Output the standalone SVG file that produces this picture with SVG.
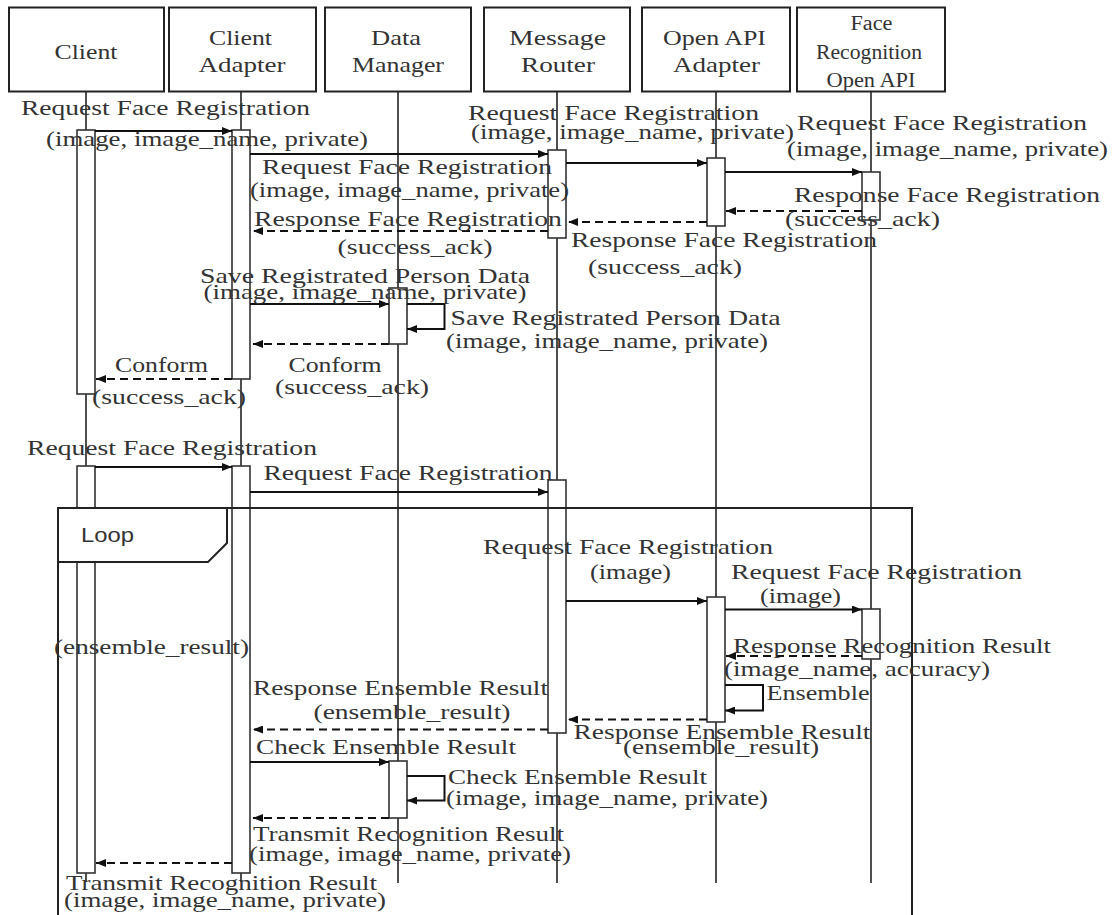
<svg xmlns="http://www.w3.org/2000/svg" width="1116" height="915" viewBox="0 0 1116 915">
<style>
.hdr{fill:#fff;stroke:#222;stroke-width:2}
.life{stroke:#222;stroke-width:1.6;fill:none}
.act{fill:#fff;stroke:#333;stroke-width:1.6}
.msg{stroke:#111;stroke-width:2;fill:none;marker-end:url(#ah)}
.ret{stroke:#111;stroke-width:2;fill:none;stroke-dasharray:8 5;marker-end:url(#ah)}
.t{font-family:"Liberation Serif","DejaVu Serif",serif;font-size:22px;fill:#333;text-anchor:middle}
.s{font-size:20px}
.lp{font-family:"Liberation Sans","DejaVu Sans",sans-serif;font-size:21px;fill:#333;text-anchor:middle}
.frame{fill:none;stroke:#222;stroke-width:2}
</style>
<defs>
<marker id="ah" markerUnits="userSpaceOnUse" markerWidth="10" markerHeight="8" refX="10" refY="4" orient="auto">
<path d="M0,0 L10,4 L0,8 z" fill="#111"/>
</marker>
</defs>
<rect width="1116" height="915" fill="#fff"/>

<g id="client">
<rect class="hdr" x="9" y="7.5" width="155" height="84"/>
<line class="life" x1="86" y1="91.5" x2="86" y2="882"/>
<rect class="act" x="77" y="130" width="18" height="264"/>
<rect class="act" x="77" y="466" width="18" height="407"/>
<text class="t" x="86" y="59" textLength="63" lengthAdjust="spacingAndGlyphs">Client</text>
</g>
<g id="client-adapter">
<rect class="hdr" x="169" y="7.5" width="147" height="84"/>
<line class="life" x1="241" y1="91.5" x2="241" y2="882"/>
<rect class="act" x="232" y="130" width="18" height="249"/>
<rect class="act" x="232" y="466" width="18" height="407"/>
<text class="t" x="240.5" y="45" textLength="63" lengthAdjust="spacingAndGlyphs">Client</text>
<text class="t" x="242" y="72" textLength="87" lengthAdjust="spacingAndGlyphs">Adapter</text>
</g>
<g id="data-manager">
<rect class="hdr" x="325" y="7.5" width="146" height="84"/>
<line class="life" x1="398" y1="91.5" x2="398" y2="883"/>
<rect class="act" x="389" y="288" width="18" height="56"/>
<rect class="act" x="389" y="761" width="18" height="57"/>
<text class="t" x="396" y="45" textLength="50" lengthAdjust="spacingAndGlyphs">Data</text>
<text class="t" x="398" y="72" textLength="92" lengthAdjust="spacingAndGlyphs">Manager</text>
</g>
<g id="message-router">
<rect class="hdr" x="484" y="7.5" width="146" height="84"/>
<line class="life" x1="557" y1="91.5" x2="557" y2="883"/>
<rect class="act" x="548" y="150" width="18" height="88"/>
<rect class="act" x="548" y="480" width="18" height="253"/>
<text class="t" x="557.5" y="45" textLength="97" lengthAdjust="spacingAndGlyphs">Message</text>
<text class="t" x="558" y="72" textLength="74" lengthAdjust="spacingAndGlyphs">Router</text>
</g>
<g id="open-api-adapter">
<rect class="hdr" x="642" y="7.5" width="148" height="84"/>
<line class="life" x1="716" y1="91.5" x2="716" y2="883"/>
<rect class="act" x="707" y="158" width="18" height="68"/>
<rect class="act" x="707" y="597" width="18" height="125"/>
<text class="t" x="714.5" y="45" textLength="103" lengthAdjust="spacingAndGlyphs">Open API</text>
<text class="t" x="716.5" y="72" textLength="87" lengthAdjust="spacingAndGlyphs">Adapter</text>
</g>
<g id="face-recognition-open-api">
<rect class="hdr" x="797" y="7.5" width="148" height="84"/>
<line class="life" x1="871" y1="91.5" x2="871" y2="883"/>
<rect class="act" x="862" y="172" width="18" height="48"/>
<rect class="act" x="862" y="609" width="18" height="50"/>
<text class="t s" x="871.5" y="30" textLength="42" lengthAdjust="spacingAndGlyphs">Face</text>
<text class="t s" x="869" y="59" textLength="106" lengthAdjust="spacingAndGlyphs">Recognition</text>
<text class="t s" x="871" y="87" textLength="89" lengthAdjust="spacingAndGlyphs">Open API</text>
</g>

<g id="loop">
<path class="frame" d="M58,916 V508 H912 V916"/>
<path d="M58,508 H227 V543 L208,562 H58 Z" fill="#fff" stroke="#222" stroke-width="2"/>
<text class="lp" x="107.5" y="542" textLength="53" lengthAdjust="spacingAndGlyphs">Loop</text>
</g>

<g id="connectors">
<line class="msg" x1="95" y1="131" x2="232" y2="131"/>
<line class="msg" x1="250" y1="154" x2="548" y2="154"/>
<line class="msg" x1="566" y1="163" x2="707" y2="163"/>
<line class="msg" x1="725" y1="172" x2="862" y2="172"/>
<line class="ret" x1="862" y1="211" x2="726" y2="211"/>
<line class="ret" x1="707" y1="222" x2="568" y2="222"/>
<line class="ret" x1="548" y1="231" x2="253" y2="231"/>
<line class="msg" x1="250" y1="304" x2="389" y2="304"/>
<polyline class="msg" points="407,304 444.5,304 444.5,329 407,329"/>
<line class="ret" x1="389" y1="344" x2="253" y2="344"/>
<line class="ret" x1="232" y1="379" x2="96" y2="379"/>
<line class="msg" x1="95" y1="467" x2="232" y2="467"/>
<line class="msg" x1="250" y1="492" x2="548" y2="492"/>
<line class="msg" x1="566" y1="601" x2="707" y2="601"/>
<line class="msg" x1="725" y1="609.5" x2="862" y2="609.5"/>
<line class="ret" x1="862" y1="656" x2="726" y2="656"/>
<polyline class="msg" points="725,685 763,685 763,710.5 725,710.5"/>
<line class="ret" x1="707" y1="719.5" x2="568" y2="719.5"/>
<line class="ret" x1="548" y1="729.5" x2="253" y2="729.5"/>
<line class="msg" x1="250" y1="762" x2="389" y2="762"/>
<polyline class="msg" points="407,776 444.5,776 444.5,800.5 407,800.5"/>
<line class="ret" x1="389" y1="818" x2="253" y2="818"/>
<line class="ret" x1="232" y1="863" x2="96" y2="863"/>
</g>

<g id="labels">
<text class="t" x="165.5" y="115" textLength="289" lengthAdjust="spacingAndGlyphs">Request Face Registration</text>
<text class="t" x="207" y="146" textLength="322" lengthAdjust="spacingAndGlyphs">(image, image_name, private)</text>
<text class="t" x="613.5" y="120" textLength="291" lengthAdjust="spacingAndGlyphs">Request Face Registration</text>
<text class="t" x="632.5" y="139" textLength="323" lengthAdjust="spacingAndGlyphs">(image, image_name, private)</text>
<text class="t" x="942" y="130" textLength="290" lengthAdjust="spacingAndGlyphs">Request Face Registration</text>
<text class="t" x="947.5" y="156" textLength="321" lengthAdjust="spacingAndGlyphs">(image, image_name, private)</text>
<text class="t" x="407" y="174" textLength="290" lengthAdjust="spacingAndGlyphs">Request Face Registration</text>
<text class="t" x="409.5" y="197" textLength="319" lengthAdjust="spacingAndGlyphs">(image, image_name, private)</text>
<text class="t" x="408" y="226" textLength="308" lengthAdjust="spacingAndGlyphs">Response Face Registration</text>
<text class="t" x="415" y="254" textLength="155" lengthAdjust="spacingAndGlyphs">(success_ack)</text>
<text class="t" x="947" y="202" textLength="306" lengthAdjust="spacingAndGlyphs">Response Face Registration</text>
<text class="t" x="862.5" y="226" textLength="155" lengthAdjust="spacingAndGlyphs">(success_ack)</text>
<text class="t" x="724" y="247" textLength="306" lengthAdjust="spacingAndGlyphs">Response Face Registration</text>
<text class="t" x="665" y="274" textLength="154" lengthAdjust="spacingAndGlyphs">(success_ack)</text>
<text class="t" x="365" y="283" textLength="330" lengthAdjust="spacingAndGlyphs">Save Registrated Person Data</text>
<text class="t" x="365" y="299" textLength="323" lengthAdjust="spacingAndGlyphs">(image, image_name, private)</text>
<text class="t" x="615.5" y="325" textLength="330" lengthAdjust="spacingAndGlyphs">Save Registrated Person Data</text>
<text class="t" x="607" y="348" textLength="322" lengthAdjust="spacingAndGlyphs">(image, image_name, private)</text>
<text class="t" x="335" y="372" textLength="93" lengthAdjust="spacingAndGlyphs">Conform</text>
<text class="t" x="352" y="394" textLength="154" lengthAdjust="spacingAndGlyphs">(success_ack)</text>
<text class="t" x="161.5" y="372" textLength="93" lengthAdjust="spacingAndGlyphs">Conform</text>
<text class="t" x="169" y="404" textLength="154" lengthAdjust="spacingAndGlyphs">(success_ack)</text>
<text class="t" x="172" y="455" textLength="290" lengthAdjust="spacingAndGlyphs">Request Face Registration</text>
<text class="t" x="408" y="480" textLength="289" lengthAdjust="spacingAndGlyphs">Request Face Registration</text>
<text class="t" x="628" y="554" textLength="290" lengthAdjust="spacingAndGlyphs">Request Face Registration</text>
<text class="t" x="630.5" y="579" textLength="81" lengthAdjust="spacingAndGlyphs">(image)</text>
<text class="t" x="876.5" y="579" textLength="291" lengthAdjust="spacingAndGlyphs">Request Face Registration</text>
<text class="t" x="800.5" y="603" textLength="81" lengthAdjust="spacingAndGlyphs">(image)</text>
<text class="t" x="892" y="653" textLength="318" lengthAdjust="spacingAndGlyphs">Response Recognition Result</text>
<text class="t" x="857" y="676" textLength="266" lengthAdjust="spacingAndGlyphs">(image_name, accuracy)</text>
<text class="t" x="151.5" y="654" textLength="195" lengthAdjust="spacingAndGlyphs">(ensemble_result)</text>
<text class="t" x="818" y="700" textLength="103" lengthAdjust="spacingAndGlyphs">Ensemble</text>
<text class="t" x="722" y="739" textLength="297" lengthAdjust="spacingAndGlyphs">Response Ensemble Result</text>
<text class="t" x="721" y="754" textLength="196" lengthAdjust="spacingAndGlyphs">(ensemble_result)</text>
<text class="t" x="400.5" y="695" textLength="295" lengthAdjust="spacingAndGlyphs">Response Ensemble Result</text>
<text class="t" x="412" y="719" textLength="197" lengthAdjust="spacingAndGlyphs">(ensemble_result)</text>
<text class="t" x="386" y="754" textLength="260" lengthAdjust="spacingAndGlyphs">Check Ensemble Result</text>
<text class="t" x="577.5" y="784" textLength="259" lengthAdjust="spacingAndGlyphs">Check Ensemble Result</text>
<text class="t" x="607" y="805" textLength="322" lengthAdjust="spacingAndGlyphs">(image, image_name, private)</text>
<text class="t" x="408.5" y="841" textLength="311" lengthAdjust="spacingAndGlyphs">Transmit Recognition Result</text>
<text class="t" x="410" y="861" textLength="322" lengthAdjust="spacingAndGlyphs">(image, image_name, private)</text>
<text class="t" x="221.5" y="890" textLength="311" lengthAdjust="spacingAndGlyphs">Transmit Recognition Result</text>
<text class="t" x="225" y="907" textLength="322" lengthAdjust="spacingAndGlyphs">(image, image_name, private)</text>
</g>
</svg>
